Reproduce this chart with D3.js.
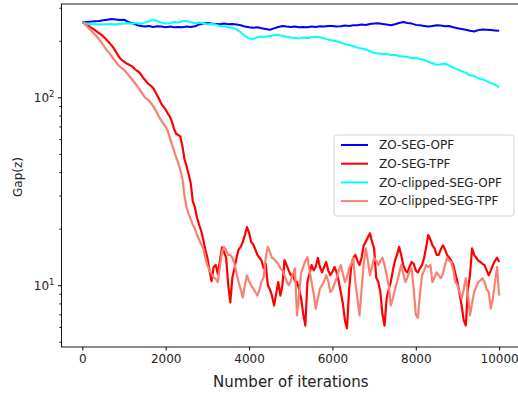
<!DOCTYPE html>
<html>
<head>
<meta charset="utf-8">
<script src="https://cdn.jsdelivr.net/npm/d3@7"></script>
<style>
  html, body { margin: 0; padding: 0; background: #fff; }
  svg { display: block; font-family: "DejaVu Sans", sans-serif; }
</style>
</head>
<body>
<div id="chart"></div>
<script>
// series names, in drawing order
const seriesNames = ['ZO-SEG-OPF', 'ZO-SEG-TPF', 'ZO-clipped-SEG-OPF', 'ZO-clipped-SEG-TPF'];
const seriesColors = ['#0000ff', '#ff0000', '#00ffff', '#fa8072'];

// OPF curves sampled every 100 iterations
const stepOPF = 100;
const zoSegOpf = [
  250, 252, 253, 254, 255, 257, 259, 261, 260, 258,
  259, 252, 248, 243, 240, 238, 240, 237, 239, 238,
  236, 238, 236, 237, 236, 238, 237, 239, 244, 247,
  249, 247, 246, 245, 247, 245, 246, 244, 242, 238,
  236, 235, 236, 233, 231, 229, 233, 237, 240, 238,
  237, 238, 236, 237, 236, 238, 237, 239, 238, 240,
  240, 238, 239, 241, 240, 242, 242, 244, 243, 246,
  247, 248, 246, 244, 242, 245, 249, 252, 249, 247,
  243, 242, 240, 238, 240, 242, 241, 239, 240, 236,
  233, 231, 229, 226, 224, 228, 230, 229, 228, 227,
  226
];
const zoClippedSegOpf = [
  250, 247, 245, 246, 244, 245, 245, 246, 244, 246,
  247, 248, 247, 249, 246, 250, 254, 258, 255, 250,
  247, 249, 252, 250, 254, 255, 252, 248, 250, 248,
  245, 246, 244, 240, 239, 236, 235, 230, 222, 212,
  206, 204, 209, 211, 210, 212, 214, 215, 212, 210,
  208, 207, 206, 208, 207, 209, 210, 209, 206, 203,
  201, 199, 196, 192, 190, 187, 184, 182, 180, 176,
  172, 171, 170, 170, 168, 168, 166, 165, 164, 162,
  162, 160, 158, 155, 152, 149, 150, 151, 148, 144,
  141, 138, 135, 131, 130, 126, 125, 122, 119, 117,
  113
];

// TPF curves sampled every 50 iterations
const stepTPF = 50;
const zoSegTpf = [
  250, 248, 244, 240, 236, 232, 228, 224, 220, 216,
  211, 206, 200, 195, 189, 183, 176, 168, 162, 158,
  155, 152, 150, 148, 146, 142, 139, 137, 133, 128,
  124, 120, 117, 115, 112, 107, 102, 97, 92, 89,
  86, 82, 79, 74, 68, 64, 63, 62, 55, 47,
  43, 39, 35, 28, 26, 23, 21, 19.5, 17.5, 15.5,
  14, 12, 10.5, 12.5, 12.8, 11.5, 13.5, 15.9, 15, 14,
  10, 8.1, 11, 12.3, 14, 15.5, 16, 17, 18.5, 20.4,
  19, 17, 16.5, 15.5, 14.5, 14, 13.5, 12.3, 13, 10,
  9.5, 8.8, 7.8, 9, 10.4, 8.8, 10, 13.6, 12.8, 12,
  11.3, 11.5, 10.5, 10.4, 9.5, 8.5, 7, 6.1, 10.4, 11.5,
  12.8, 12, 12.5, 14, 12.5, 11.7, 12.5, 13.3, 12, 11.3,
  11.8, 12.5, 11.7, 10.5, 9.2, 8, 6.5, 5.9, 9.5, 12.5,
  14, 14.5, 13.5, 12.8, 14, 16.3, 17, 18, 18.9, 17,
  15.7, 11, 10.4, 9.2, 7, 6.1, 8.5, 9.5, 10.4, 12,
  13.5, 14.5, 16, 14.5, 12.8, 12, 11.7, 12.5, 13.3, 13,
  12, 11.7, 12.3, 12.8, 14, 16, 18.5, 17.5, 16.3, 15.7,
  14.5, 14.5, 15.5, 16.3, 15.5, 14.5, 14, 13.5, 12.8, 11.5,
  10.4, 9, 7.8, 6.5, 6.1, 9.5, 11.3, 15.7, 14.5, 14,
  13.5, 13.3, 13, 12.8, 12, 11.3, 12, 12.8, 13.5, 14,
  13.3
];
const zoClippedSegTpf = [
  250, 246, 240, 234, 228, 222, 216, 210, 204, 197,
  190, 183, 177, 172, 166, 160, 155, 150, 146, 143,
  140, 136, 132, 128, 124, 120, 116, 112, 108, 104,
  100, 98, 96, 93, 90, 86, 82, 78, 75, 72,
  70, 66, 61, 56, 52, 48, 45, 41, 37, 30,
  26, 24, 22.5, 21, 20, 18.5, 17.5, 16.5, 15.7, 14,
  12.8, 12, 11.5, 11, 10.8, 10.4, 12.5, 15, 16, 15.3,
  14.5, 14.5, 14, 13, 11.5, 10.4, 9.5, 8.6, 10, 11.3,
  10.5, 10, 9.6, 9.2, 8.8, 9.5, 10.5, 11, 14, 16,
  15, 14, 13.8, 13.3, 13, 12.3, 12, 11.3, 10.5, 10,
  10.5, 11.5, 12.3, 6.9, 9, 11.7, 12.5, 13.5, 14.1, 12,
  10.4, 9, 7.5, 8.5, 9.6, 10, 10.5, 11.3, 10.5, 9.2,
  9.5, 10.2, 10.9, 12, 12.8, 11.5, 10.4, 11, 12.3, 13,
  14, 10.4, 8.5, 6.9, 9.5, 13, 15.7, 13.5, 11.3, 12.5,
  14, 13.5, 12.8, 13.5, 14, 12.8, 11.3, 10, 7.8, 8.5,
  9.5, 10.4, 11.5, 12.8, 11.5, 10.4, 11, 11.8, 12.3, 9.5,
  7, 6.7, 9, 11.3, 12, 12.8, 12.5, 12.8, 10.4, 11,
  11.7, 11.3, 10.9, 11.5, 12.8, 14, 13.5, 13.3, 12, 10.4,
  10, 9.2, 8.5, 9.5, 10.9, 9, 6.9, 8, 9.2, 9.8,
  10.4, 10.6, 10.9, 10.4, 9.5, 9.2, 7.5, 8.5, 10.4, 12.5,
  8.8
];

const xTicks = [0, 2000, 4000, 6000, 8000, 10000];
const yMajorTicks = [10, 100];
const yMinorTicks = [5, 6, 7, 8, 9, 20, 30, 40, 50, 60, 70, 80, 90, 200, 300];

const width = 518, height = 394;
const margin = { top: 4, right: -2, bottom: 47, left: 61.5 };

const toPoints = (vals, step) => vals.map((v, i) => [i * step, v]);
const series = [
  toPoints(zoSegOpf, stepOPF),
  toPoints(zoSegTpf, stepTPF),
  toPoints(zoClippedSegOpf, stepOPF),
  toPoints(zoClippedSegTpf, stepTPF)
];

const x = d3.scaleLinear()
  .domain([-500, 10500])
  .range([margin.left, width - margin.right]);

const y = d3.scaleLog()
  .domain([4.69, 314])
  .range([height - margin.bottom, margin.top]);

const svg = d3.select('#chart')
  .append('svg')
  .attr('width', width)
  .attr('height', height);

svg.append('clipPath').attr('id', 'plot-clip')
  .append('rect')
  .attr('x', x.range()[0])
  .attr('y', margin.top)
  .attr('width', x.range()[1] - x.range()[0])
  .attr('height', y.range()[0] - margin.top);

const line = d3.line()
  .x(d => x(d[0]))
  .y(d => y(d[1]));

svg.append('g')
  .attr('clip-path', 'url(#plot-clip)')
  .selectAll('path')
  .data(series)
  .join('path')
  .attr('fill', 'none')
  .attr('stroke', (d, i) => seriesColors[i])
  .attr('stroke-width', (d, i) => i % 2 ? 2.2 : 2)
  .attr('stroke-linejoin', 'round')
  .attr('d', line);

// frame
svg.append('rect')
  .attr('x', x.range()[0])
  .attr('y', margin.top)
  .attr('width', x.range()[1] - x.range()[0])
  .attr('height', y.range()[0] - margin.top)
  .attr('fill', 'none')
  .attr('stroke', '#000')
  .attr('stroke-width', 0.9);

// x axis
const xAxis = svg.append('g')
  .attr('transform', `translate(0,${y.range()[0]})`)
  .call(d3.axisBottom(x).tickValues(xTicks).tickFormat(d3.format('d')).tickSizeOuter(0).tickSize(3.5).tickPadding(3.5));
xAxis.select('.domain').remove();
xAxis.selectAll('text')
  .attr('font-size', 12)
  .attr('fill', '#222')
  .attr('font-family', '"DejaVu Sans", sans-serif');

// y axis: major ticks with 10^n labels
const yAxis = svg.append('g')
  .attr('transform', `translate(${x.range()[0]},0)`)
  .call(d3.axisLeft(y).tickValues(yMajorTicks).tickFormat('').tickSizeOuter(0).tickSize(3.5));
yAxis.select('.domain').remove();

const yMinor = svg.append('g')
  .attr('transform', `translate(${x.range()[0]},0)`)
  .call(d3.axisLeft(y).tickValues(yMinorTicks).tickFormat('').tickSizeOuter(0).tickSize(2));
yMinor.select('.domain').remove();

const yLabels = svg.append('g')
  .selectAll('text')
  .data(yMajorTicks)
  .join('text')
  .attr('x', x.range()[0] - 7)
  .attr('y', d => y(d) + 4.5)
  .attr('text-anchor', 'end')
  .attr('font-size', 12)
  .attr('fill', '#222');
yLabels.append('tspan').text('10');
yLabels.append('tspan')
  .attr('font-size', 8.5)
  .attr('dy', -5)
  .text(d => Math.round(Math.log10(d)));

// axis titles
svg.append('text')
  .attr('x', (x.range()[0] + x.range()[1]) / 2)
  .attr('y', 387)
  .attr('text-anchor', 'middle')
  .attr('font-size', 15)
  .attr('fill', '#222')
  .text('Number of iterations');

svg.append('text')
  .attr('transform', 'translate(21.5,177) rotate(-90)')
  .attr('text-anchor', 'middle')
  .attr('font-size', 12)
  .attr('fill', '#222')
  .text('Gap(z)');

// legend
const legend = svg.append('g').attr('transform', 'translate(334,135)');
legend.append('rect')
  .attr('width', 180)
  .attr('height', 81)
  .attr('rx', 3)
  .attr('fill', '#fff')
  .attr('fill-opacity', 0.85)
  .attr('stroke', '#d0d0d0')
  .attr('stroke-width', 0.9);

const entry = legend.selectAll('g.entry')
  .data(seriesNames)
  .join('g')
  .attr('class', 'entry')
  .attr('transform', (d, i) => `translate(0,${10 + i * 18.7})`);
entry.append('line')
  .attr('x1', 7).attr('x2', 34)
  .attr('stroke', (d, i) => seriesColors[i])
  .attr('stroke-width', 2);
entry.append('text')
  .attr('x', 45)
  .attr('y', 4.3)
  .attr('font-size', 12)
  .attr('fill', '#222')
  .text(d => d);
</script>
</body>
</html>
